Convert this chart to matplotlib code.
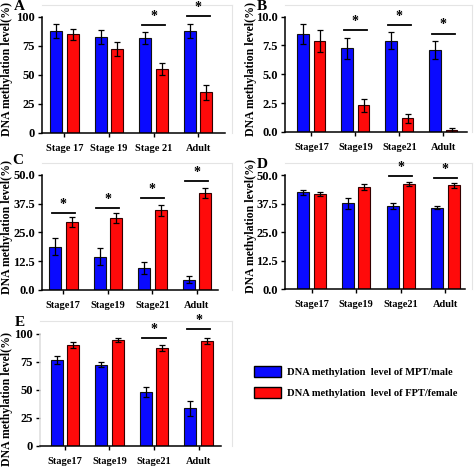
import numpy as np
import matplotlib
matplotlib.use('Agg')
import matplotlib.pyplot as plt
from matplotlib.patches import Patch

plt.rcParams['font.family'] = ['Liberation Serif', 'DejaVu Serif']
plt.rcParams['font.weight'] = 'bold'

# Data
cats_a = ['Stage 17', 'Stage 19', 'Stage 21', 'Adult']
cats = ['Stage17', 'Stage19', 'Stage21', 'Adult']

a_male = [88, 83, 82, 88]
a_male_err = [6.2, 6, 5, 6]
a_fem = [85, 72, 55, 35]
a_fem_err = [5, 6, 5, 6.5]
a_sig = [None, None, 93, 101]

b_male = [8.47, 7.26, 7.92, 7.12]
b_male_err = [0.87, 0.92, 0.7, 0.78]
b_fem = [7.92, 2.3, 1.18, 0.14]
b_fem_err = [0.95, 0.55, 0.38, 0.2]
b_sig = [None, 8.85, 9.25, 8.53]

c_male = [18.8, 14.5, 9.6, 4.5]
c_male_err = [3.8, 3.6, 2.6, 1.4]
c_fem = [29.6, 31.2, 34.6, 42.3]
c_fem_err = [2.0, 2.1, 2.3, 2.2]
c_sig = [33.6, 35.8, 39.9, 47.4]

d_male = [42.4, 37.7, 36.4, 35.7]
d_male_err = [1.2, 2.4, 1.2, 0.7]
d_fem = [41.7, 44.7, 46.1, 45.5]
d_fem_err = [1.0, 1.2, 0.7, 1.0]
d_sig = [None, None, 49.7, 48.5]

e_male = [76.8, 72.6, 47.9, 33.6]
e_male_err = [3.9, 2.1, 4.5, 6.8]
e_fem = [90.5, 94.6, 87.5, 93.7]
e_fem_err = [2.7, 2.1, 2.4, 2.7]
e_sig = [None, None, 96.7, 104.2]

yticks_100 = [0, 25, 50, 75, 100]
yticks_10 = [0.0, 2.5, 5.0, 7.5, 10.0]
yticks_50 = [0.0, 12.5, 25.0, 37.5, 50.0]

legend_labels = ['DNA methylation  level of MPT/male',
                 'DNA methylation  level of FPT/female']

BLUE = '#0a0aff'
RED = '#ff0a0a'
W, H = 474, 467

fig = plt.figure(figsize=(W / 100, H / 100), dpi=100)


def panel(box, letter, letter_xy, labels, male, male_err, fem, fem_err, sig,
          yticks, ymax, ytop, fmt, xlo, xhi, xend, left_spine=True, label_y=0.5):
    l, r, b, t = box
    ax = fig.add_axes([l / W, 1 - b / H, (r - l) / W, (b - t) / H])
    x = np.arange(len(labels))
    off, bw = 0.185, 0.27
    ekw = dict(ecolor='black', elinewidth=0.9, capsize=2.5, capthick=0.9)
    ax.bar(x - off, male, bw, yerr=male_err, color=BLUE, edgecolor='#111111',
           linewidth=0.8, error_kw=ekw, zorder=2)
    ax.bar(x + off, fem, bw, yerr=fem_err, color=RED, edgecolor='#330000',
           linewidth=0.8, error_kw=ekw, zorder=2)
    for i, s in enumerate(sig):
        if s is None:
            continue
        ax.plot([i - 0.26, i + 0.26], [s, s], color='black', lw=1.3)
        ax.annotate('*', (i, s), xytext=(0, 1.5), textcoords='offset points',
                    ha='center', va='bottom', fontsize=10, fontweight='bold')
    ax.set_xlim(xlo, xhi)
    ax.set_ylim(0, ytop)
    ax.set_yticks(yticks)
    ax.set_yticklabels([fmt.format(v) for v in yticks], fontsize=9,
                       fontweight='bold')
    ax.set_xticks(x)
    ax.set_xticklabels(labels, fontsize=7.5, fontweight='bold')
    ax.tick_params(axis='y', length=3, width=1, pad=2)
    ax.tick_params(axis='x', length=3, width=1, pad=5)
    ax.spines['left'].set_bounds(0, ymax)
    ax.spines['bottom'].set_bounds(xlo, xend)
    ax.spines['left'].set_linewidth(1.1)
    ax.spines['bottom'].set_linewidth(1.1)
    if not left_spine:
        ax.spines['left'].set_color('#dddddd')
    for side in ['top', 'right']:
        ax.spines[side].set_color('#e4e4e4')
        ax.spines[side].set_linewidth(0.8)
    ax.set_ylabel('DNA methylation level(%)', fontsize=8.5,
                  fontweight='bold')
    ax.yaxis.set_label_coords(-(l - 13) / (r - l), label_y)
    fig.text(letter_xy[0] / W, 1 - letter_xy[1] / H, letter, fontsize=11,
             fontweight='bold', ha='center', va='center')
    return ax


panel((42, 232, 133, 5), 'A', (19, 7), cats_a, a_male, a_male_err, a_fem,
      a_fem_err, a_sig, yticks_100, 100, 110.3, '{:.0f}', -0.5, 3.76, 3.6)
ax_b = panel((285, 472, 132, 5), 'B', (262, 6), cats, b_male, b_male_err,
             b_fem, b_fem_err, b_sig, yticks_10, 10, 11.0, '{:.1f}',
             -0.6, 3.65, 3.53)
ax_b.yaxis.set_label_coords(-(285 - 257) / 187, 0.5)
panel((42, 232, 290, 163), 'C', (18, 161), cats, c_male, c_male_err, c_fem,
      c_fem_err, c_sig, yticks_50, 50, 55.2, '{:.1f}', -0.48, 3.79, 3.47)
ax_d = panel((285, 472, 289, 163), 'D', (262, 164), cats, d_male, d_male_err,
             d_fem, d_fem_err, d_sig, yticks_50, 50, 55.3, '{:.1f}',
             -0.6, 3.6, 3.44)
ax_d.yaxis.set_label_coords(-(285 - 257) / 187, 0.5)
panel((40, 232, 446, 321), 'E', (20, 322), cats, e_male, e_male_err, e_fem,
      e_fem_err, e_sig, yticks_100, 100, 111.6, '{:.0f}', -0.56, 3.75, 3.5,
      left_spine=False, label_y=0.38)

handles = [Patch(facecolor=BLUE, edgecolor='black', linewidth=1),
           Patch(facecolor=RED, edgecolor='black', linewidth=1)]
fig.legend(handles, legend_labels, loc='center left',
           bbox_to_anchor=(244 / W, 1 - 382 / H), frameon=False,
           prop={'family': 'Liberation Serif', 'size': 7.6, 'weight': 'bold'},
           handlelength=2.6, handleheight=1.2, handletextpad=0.6,
           labelspacing=0.9)

fig.savefig('out.png', dpi=100)
